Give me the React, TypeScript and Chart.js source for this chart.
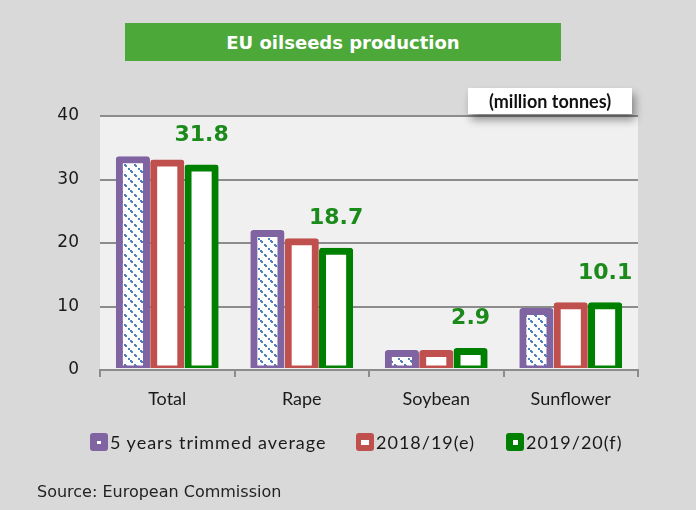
import React, { useEffect, useRef } from "react";
import { Chart, registerables } from "chart.js";

Chart.register(...registerables);

const categories = ["Total", "Rape", "Soybean", "Sunflower"];
const seriesNames = ["5 years trimmed average", "2018/19(e)", "2019/20(f)"];
const avg5 = [33.1, 21.5, 2.6, 9.2];
const y2018 = [32.6, 20.2, 2.6, 10.1];
const y2019 = [31.8, 18.7, 2.9, 10.1];
const yTicks = [0, 10, 20, 30, 40];
const seriesColors = ["#8064a2", "#c0504d", "#008000"];

function makePattern(): CanvasPattern | string {
  const c = document.createElement("canvas");
  c.width = 10;
  c.height = 10;
  const g = c.getContext("2d");
  if (!g) return "#fff";
  g.fillStyle = "#ffffff";
  g.fillRect(0, 0, 10, 10);
  g.fillStyle = "#4f81bd";
  for (let i = 0; i < 10; i++) {
    if (i % 4 < 2) g.fillRect(i, i, 2, 2);
  }
  const p = g.createPattern(c, "repeat");
  return p || "#fff";
}

const bgPlugin = {
  id: "plotBg",
  beforeDraw(chart: any) {
    const { ctx, chartArea } = chart;
    ctx.save();
    ctx.fillStyle = "#f0f0f0";
    ctx.fillRect(chartArea.left, chartArea.top, chartArea.right - chartArea.left, chartArea.bottom - chartArea.top);
    ctx.restore();
  },
};

const labelPlugin = {
  id: "greenLabels",
  afterDatasetsDraw(chart: any) {
    const { ctx } = chart;
    const meta = chart.getDatasetMeta(2);
    ctx.save();
    ctx.font = "bold 22px 'DejaVu Sans'";
    ctx.fillStyle = "#1a8a1a";
    ctx.textAlign = "center";
    ctx.textBaseline = "middle";
    meta.data.forEach((bar: any, i: number) => {
      ctx.fillText(y2019[i].toFixed(1), bar.x, bar.y - 33);
    });
    ctx.restore();
  },
};

export default function App() {
  const ref = useRef<HTMLCanvasElement>(null);

  useEffect(() => {
    document.body.style.margin = "0";
    if (!ref.current) return;
    const pattern = makePattern();
    const values = [avg5, y2018, y2019];
    const chart = new Chart(ref.current, {
      type: "bar",
      data: {
        labels: categories,
        datasets: values.map((v, i) => ({
          label: seriesNames[i],
          data: v,
          backgroundColor: i === 0 ? (pattern as any) : "#ffffff",
          borderColor: seriesColors[i],
          borderWidth: 7,
          borderRadius: 3,
          borderSkipped: false,
          inflateAmount: 3.5,
          barPercentage: 0.79,
          categoryPercentage: 0.766,
          clip: { left: false, top: false, right: false, bottom: -2 } as any,
        })),
      },
      options: {
        responsive: false,
        animation: false,
        devicePixelRatio: 1,
        layout: { padding: { left: 0, right: 58, top: 116, bottom: 0 } },
        plugins: {
          legend: { display: false },
          tooltip: { enabled: false },
        },
        scales: {
          x: {
            afterFit(scale: any) {
              scale.height = 140;
            },
            grid: {
              display: true,
              offset: true,
              drawOnChartArea: false,
              drawTicks: true,
              tickLength: 7,
              color: "#8c8c8c",
              lineWidth: 2,
            },
            border: { display: true, color: "#8c8c8c", width: 2 },
            ticks: {
              color: "#1a1a1a",
              font: { family: "Lato", size: 18 },
              padding: 11,
            },
          },
          y: {
            min: 0,
            max: 40,
            afterFit(scale: any) {
              scale.width = 100;
            },
            afterBuildTicks(scale: any) {
              scale.ticks = yTicks.map((v) => ({ value: v }));
            },
            grid: {
              color: "#8c8c8c",
              lineWidth: 2,
              drawTicks: false,
            },
            border: { display: false },
            ticks: {
              color: "#1a1a1a",
              font: { family: "DejaVu Sans", size: 17 },
              padding: 21,
            },
          },
        },
      },
      plugins: [bgPlugin, labelPlugin],
    });
    return () => chart.destroy();
  }, []);

  const legendPos = [90, 356, 506];
  const innerSizes = [
    [4, 3],
    [8, 5],
    [5, 5],
  ];

  return (
    <div
      style={{
        position: "fixed",
        left: 0,
        top: 0,
        width: 696,
        height: 510,
        background: "#d9d9d9",
        overflow: "hidden",
      }}
    >
      <canvas ref={ref} width={696} height={510} style={{ position: "absolute", left: 0, top: 0 }} />
      <div
        style={{
          position: "absolute",
          left: 125,
          top: 23,
          width: 436,
          height: 38,
          background: "#4ca838",
          color: "#fff",
          font: "bold 18px 'DejaVu Sans'",
          display: "flex",
          alignItems: "center",
          justifyContent: "center",
        }}
      >
        EU oilseeds production
      </div>
      <div
        style={{
          position: "absolute",
          left: 468,
          top: 88,
          width: 164,
          height: 26,
          background: "#fff",
          boxShadow: "3px 6px 8px rgba(0,0,0,0.4)",
          font: "bold 18px Lato",
          color: "#111",
          display: "flex",
          alignItems: "center",
          justifyContent: "center",
        }}
      >
        (million tonnes)
      </div>
      {seriesNames.map((name, i) => (
        <div
          key={name}
          style={{
            position: "absolute",
            left: legendPos[i],
            top: 431,
            height: 22,
            display: "flex",
            alignItems: "center",
            font: "18px Lato",
            letterSpacing: "1px",
            color: "#1a1a1a",
            whiteSpace: "nowrap",
          }}
        >
          <span
            style={{
              display: "inline-flex",
              alignItems: "center",
              justifyContent: "center",
              width: 18,
              height: 18,
              borderRadius: 3,
              background: seriesColors[i],
              marginRight: 2,
            }}
          >
            <span style={{ width: innerSizes[i][0], height: innerSizes[i][1], background: "#fff" }} />
          </span>
          {name}
        </div>
      ))}
      <div
        style={{
          position: "absolute",
          left: 37,
          top: 482,
          font: "16px 'DejaVu Sans'",
          color: "#222",
          whiteSpace: "nowrap",
        }}
      >
        Source: European Commission
      </div>
    </div>
  );
}
